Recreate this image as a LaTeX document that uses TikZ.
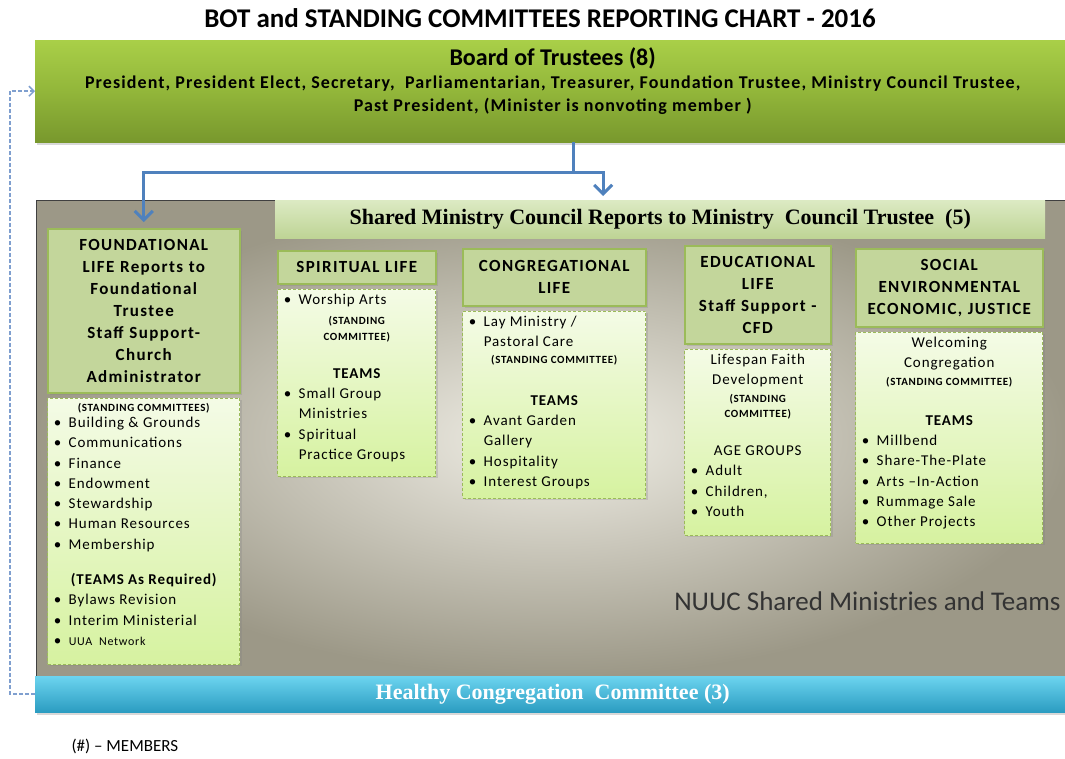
\documentclass[tikz,border=0pt]{standalone}
\usepackage{fontspec}
\setmainfont{Carlito}
\newfontfamily\headfont{Carlito}[LetterSpace=8]
\newfontfamily\listfont{Carlito}[LetterSpace=6]
\newfontfamily\botfont{Carlito}[LetterSpace=6]
\newfontfamily\councilfont{Liberation Serif}
\usetikzlibrary{positioning,shadows,arrows.meta}

\definecolor{botTop}{HTML}{A9CF48}
\definecolor{botMid}{HTML}{92B63A}
\definecolor{botBot}{HTML}{78982D}
\definecolor{lifeFill}{HTML}{C3D69B}
\definecolor{lifeEdge}{HTML}{9BBB59}
\definecolor{listTop}{HTML}{F4FBE6}
\definecolor{listBot}{HTML}{D6F2A0}
\definecolor{panelIn}{HTML}{F1EFE7}
\definecolor{panelOut}{HTML}{9C9887}
\definecolor{councilTop}{HTML}{DCEAC3}
\definecolor{councilBot}{HTML}{BED495}
\definecolor{healthTop}{HTML}{6CD4EF}
\definecolor{healthBot}{HTML}{2B9CC1}
\definecolor{flowBlue}{HTML}{4F81BD}
\definecolor{linkBlue}{HTML}{7F9FCF}

% bullet lines inside the list boxes
\newcommand{\itm}[1]{\makebox[\linewidth][l]{\makebox[15pt][l]{\textbullet}#1}}
\newcommand{\cnt}[1]{\makebox[\linewidth][l]{\hspace*{15pt}#1}}
\newcommand{\smb}{\bfseries\fontsize{11}{13}\selectfont}
\newcommand{\mdb}{\bfseries\fontsize{15}{20}\selectfont}
\newcommand{\lifebody}[3]{\parbox[c][#2][t]{#1}{\centering\listfont\fontsize{15}{20.3}\selectfont #3}}

\tikzset{
    bot/.style={
           rectangle,
           top color=botTop, bottom color=botBot, middle color=botMid,
           minimum width=1035pt, minimum height=102pt,
           inner xsep=7.5pt, inner ysep=7pt,
           drop shadow={shadow xshift=2pt, shadow yshift=-3pt, opacity=0.3},
           },
    panel/.style={
           rectangle,
           draw=black!75, line width=0.8pt,
           inner color=panelIn, outer color=panelOut,
           minimum width=1034pt, minimum height=476pt,
           },
    council/.style={
           rectangle,
           top color=councilTop, bottom color=councilBot,
           minimum width=770pt, minimum height=38pt,
           font=\councilfont\bfseries\fontsize{22}{24}\selectfont,
           },
    lifehead/.style 2 args={
           rectangle,
           draw=lifeEdge, line width=1.5pt, fill=lifeFill,
           text width=#1, minimum height=#2,
           inner xsep=4pt, align=center,
           font=\headfont\bfseries\fontsize{17}{22}\selectfont,
           drop shadow={shadow xshift=2pt, shadow yshift=-2pt, opacity=0.25},
           },
    lifelist/.style={
           rectangle,
           draw=lifeEdge, line width=1pt, dash pattern=on 3pt off 2pt,
           top color=listTop, bottom color=listBot,
           inner xsep=6pt, inner ysep=5pt,
           drop shadow={shadow xshift=2pt, shadow yshift=-2pt, opacity=0.25},
           },
    healthy/.style={
           rectangle,
           top color=healthTop, bottom color=healthBot,
           minimum width=1035pt, minimum height=36pt,
           text=white, font=\councilfont\bfseries\fontsize{22}{24}\selectfont,
           drop shadow={shadow xshift=2pt, shadow yshift=-3pt, opacity=0.3},
           },
    flow/.style={
           draw=flowBlue, line width=3pt,
           -{Straight Barb[length=9pt,width=18pt]},
           },
    memberlink/.style={
           draw=linkBlue, line width=1.5pt, dash pattern=on 4pt off 2pt,
           -{Straight Barb[length=5pt,width=10pt]},
           },
}

\begin{document}
\begin{tikzpicture}[x=1pt, y=-1pt]
  \useasboundingbox (0,0) rectangle (1065,758);
  \fill[white] (0,0) rectangle (1065,758);

  \node[font=\bfseries\fontsize{27}{30}\selectfont] (title) at (540,18)
    {BOT and STANDING COMMITTEES REPORTING CHART - 2016};

  % board on top
  \node[bot, anchor=north west] (bot) at (35,40)
   {\parbox[c][88pt][t]{1020pt}{\centering\botfont\bfseries\fontsize{18}{23}\selectfont
    {\normalfont\bfseries\fontsize{24}{24}\selectfont Board of Trustees (8)}\par
    President, President Elect, Secretary,\ \ Parliamentarian, Treasurer, Foundation Trustee, Ministry Council Trustee,\par
    Past President, (Minister is nonvoting member )}};

  % background of the shared ministries
  \node[panel, anchor=north west] (panel) at (36,200) {};

  \node[council, anchor=north west] (council) at (275,200)
    {Shared Ministry Council Reports to Ministry\ \ Council Trustee\ \ (5)};

  % the five life areas
  \node[lifehead={184pt}{164pt}, anchor=north west] (found) at (47,228)
   {FOUNDATIONAL\\LIFE Reports to\\Foundational\\Trustee\\Staff Support-\\Church\\Administrator};
  \node[lifelist, below=4pt of found] (foundL)
   {\lifebody{180pt}{256pt}{%
    {\smb (STANDING COMMITTEES)}\\[-4pt]
    \itm{Building \& Grounds}\\
    \itm{Communications}\\
    \itm{Finance}\\
    \itm{Endowment}\\
    \itm{Stewardship}\\
    \itm{Human Resources}\\
    \itm{Membership}\\[15pt]
    {\mdb (TEAMS As Required)}\\
    \itm{Bylaws Revision}\\
    \itm{Interim Ministerial}\\
    \itm{{\fontsize{12}{14}\selectfont UUA\ \ Network}}}};

  \node[lifehead={150pt}{33pt}, anchor=north west] (spir) at (277,250)
   {SPIRITUAL LIFE};
  \node[lifelist, below=4pt of spir] (spirL)
   {\lifebody{146pt}{177pt}{%
    \itm{Worship Arts}\\
    {\smb (STANDING}\\[-5pt]
    {\smb COMMITTEE)}\\[18pt]
    {\mdb TEAMS}\\
    \itm{Small Group}\\
    \cnt{Ministries}\\
    \itm{Spiritual}\\
    \cnt{Practice Groups}}};

  \node[lifehead={175pt}{57pt}, anchor=north west] (cong) at (462,248)
   {CONGREGATIONAL\\LIFE};
  \node[lifelist, below=4pt of cong] (congL)
   {\lifebody{171pt}{177pt}{%
    \itm{Lay Ministry /}\\
    \cnt{Pastoral Care}\\[-4pt]
    {\smb (STANDING COMMITTEE)}\\[22pt]
    {\mdb TEAMS}\\
    \itm{Avant Garden}\\
    \cnt{Gallery}\\
    \itm{Hospitality}\\
    \itm{Interest Groups}}};

  \node[lifehead={138pt}{98pt}, anchor=north west] (edu) at (684,245)
   {EDUCATIONAL\\LIFE\\Staff Support -\\CFD};
  \node[lifelist, below=4pt of edu] (eduL)
   {\lifebody{134pt}{176pt}{%
    Lifespan Faith\\
    Development\\[-3pt]
    {\smb (STANDING}\\[-5pt]
    {\smb COMMITTEE)}\\[18pt]
    AGE GROUPS\\
    \itm{Adult}\\
    \itm{Children,}\\
    \itm{Youth}}};

  \node[lifehead={179pt}{78pt}, anchor=north west] (soc) at (855,248)
   {SOCIAL\\ENVIRONMENTAL\\ECONOMIC, JUSTICE};
  \node[lifelist, below=4pt of soc] (socL)
   {\lifebody{175pt}{201pt}{%
    Welcoming\\
    Congregation\\[-3pt]
    {\smb (STANDING COMMITTEE)}\\[20pt]
    {\mdb TEAMS}\\
    \itm{Millbend}\\
    \itm{Share-The-Plate}\\
    \itm{Arts –In-Action}\\
    \itm{Rummage Sale}\\
    \itm{Other Projects}}};

  \node[anchor=east, text=black!80, font=\fontsize{27}{30}\selectfont] (nuuc) at (1064,601)
    {NUUC Shared Ministries and Teams};

  % committee bar at the bottom
  \node[healthy, anchor=north west] (healthy) at (35,676)
    {Healthy Congregation\ \ Committee (3)};

  \node[anchor=west, font=\fontsize{17}{19}\selectfont] (members) at (68,746)
    {(\#) – MEMBERS};

  % reporting lines
  \coordinate (split) at (573,172);
  \draw[draw=flowBlue, line width=3pt] (bot.south -| split) -- (split);
  \draw[flow, shorten >=6pt] (split) -| (found.north);
  \draw[flow, shorten >=4pt] (split) -| ([xshift=-57pt]council.north);
  \draw[memberlink] (healthy.west) -- ++(-25,0) |- (bot.west);

\end{tikzpicture}
\end{document}
